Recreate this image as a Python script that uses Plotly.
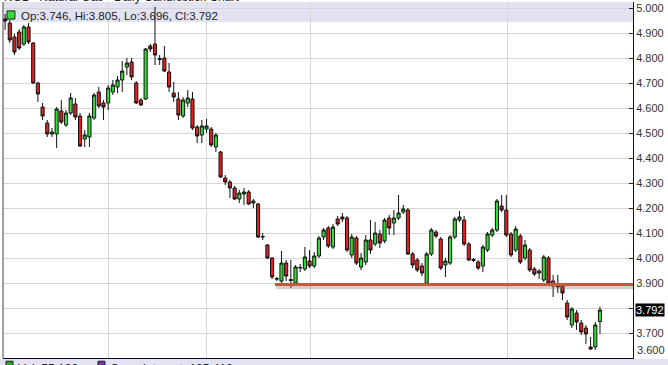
import plotly.graph_objects as go

# ---- data ----
opens = [4.956, 4.940, 4.884, 4.904, 4.856, 4.924, 4.860, 4.700, 4.604, 4.540,
         4.496, 4.496, 4.588, 4.532, 4.580, 4.616, 4.568, 4.476, 4.484, 4.560,
         4.664, 4.620, 4.620, 4.664, 4.684, 4.712, 4.764, 4.784, 4.700, 4.632,
         4.636, 4.848, 4.856, 4.798, 4.800, 4.744, 4.660, 4.636, 4.568, 4.620,
         4.636, 4.524, 4.492, 4.516, 4.516, 4.444, 4.424, 4.320, 4.304, 4.280,
         4.236, 4.256, 4.264, 4.220, 4.216, 4.084, 4.052, 4.000, 3.918, 3.908,
         3.980, 3.914, 3.900, 3.960, 3.956, 3.988, 3.968, 4.008, 4.084, 4.120,
         4.044, 4.156, 4.164, 4.160, 4.012, 4.080, 3.964, 3.984, 4.072, 4.056,
         4.096, 4.068, 4.160, 4.140, 4.160, 4.184, 4.192, 4.016, 3.992, 3.968,
         3.900, 4.016, 4.104, 4.076, 3.972, 3.980, 4.084, 4.152, 4.152, 4.056,
         3.994, 3.984, 3.968, 4.032, 4.092, 4.112, 4.208, 4.192, 4.096, 4.032,
         4.088, 4.000, 4.032, 3.956, 3.940, 3.912, 4.000, 3.908, 3.896, 3.888,
         3.820, 3.732, 3.780, 3.740, 3.720, 3.644, 3.644, 3.746]
closes = [4.948, 4.872, 4.824, 4.840, 4.924, 4.864, 4.700, 4.656, 4.568, 4.496,
          4.504, 4.596, 4.544, 4.580, 4.640, 4.564, 4.448, 4.492, 4.568, 4.652,
          4.608, 4.604, 4.680, 4.692, 4.712, 4.748, 4.780, 4.724, 4.620, 4.612,
          4.836, 4.836, 4.812, 4.794, 4.748, 4.684, 4.644, 4.572, 4.632, 4.640,
          4.520, 4.488, 4.528, 4.528, 4.452, 4.492, 4.324, 4.304, 4.280, 4.236,
          4.260, 4.264, 4.216, 4.228, 4.084, 4.086, 4.000, 3.924, 3.916, 3.980,
          3.928, 3.910, 3.964, 3.962, 4.004, 3.968, 4.008, 4.080, 4.112, 4.048,
          4.124, 4.136, 4.156, 4.032, 4.084, 3.980, 4.000, 4.072, 4.032, 4.100,
          4.060, 4.152, 4.120, 4.160, 4.180, 4.196, 4.016, 3.972, 3.952, 3.940,
          4.016, 4.112, 4.088, 3.960, 3.988, 4.084, 4.156, 4.164, 4.056, 3.992,
          3.990, 3.960, 4.044, 4.096, 4.112, 4.228, 4.192, 4.092, 4.012, 4.116,
          3.984, 4.052, 3.952, 3.936, 3.948, 4.004, 3.900, 3.888, 3.884, 3.860,
          3.764, 3.796, 3.744, 3.704, 3.696, 3.636, 3.732, 3.792]
highs = [4.976, 4.952, 4.896, 4.916, 4.932, 4.940, 4.864, 4.704, 4.620, 4.552,
         4.520, 4.604, 4.632, 4.592, 4.660, 4.640, 4.580, 4.512, 4.580, 4.660,
         4.684, 4.632, 4.692, 4.712, 4.728, 4.788, 4.800, 4.800, 4.708, 4.640,
         4.840, 4.856, 5.005, 4.812, 4.848, 4.780, 4.704, 4.664, 4.644, 4.672,
         4.664, 4.532, 4.552, 4.556, 4.524, 4.500, 4.428, 4.332, 4.312, 4.288,
         4.272, 4.280, 4.272, 4.236, 4.220, 4.100, 4.056, 4.004, 3.924, 4.028,
         3.992, 3.992, 3.972, 3.976, 4.044, 4.032, 4.024, 4.088, 4.120, 4.128,
         4.136, 4.168, 4.180, 4.168, 4.096, 4.088, 4.020, 4.092, 4.152, 4.144,
         4.112, 4.160, 4.172, 4.192, 4.252, 4.212, 4.200, 4.024, 4.000, 3.980,
         4.024, 4.120, 4.112, 4.084, 4.000, 4.092, 4.164, 4.188, 4.168, 4.064,
         4.000, 3.992, 4.052, 4.104, 4.120, 4.236, 4.252, 4.252, 4.104, 4.128,
         4.096, 4.072, 4.040, 3.964, 3.956, 4.012, 4.008, 3.932, 3.932, 3.896,
         3.832, 3.804, 3.792, 3.752, 3.732, 3.684, 3.744, 3.805]
lows = [4.912, 4.860, 4.812, 4.832, 4.848, 4.856, 4.696, 4.624, 4.552, 4.484,
        4.484, 4.440, 4.536, 4.524, 4.572, 4.552, 4.444, 4.444, 4.444, 4.552,
        4.600, 4.552, 4.592, 4.652, 4.660, 4.664, 4.732, 4.712, 4.616, 4.608,
        4.632, 4.824, 4.772, 4.772, 4.744, 4.664, 4.624, 4.552, 4.560, 4.604,
        4.512, 4.460, 4.460, 4.500, 4.444, 4.424, 4.320, 4.292, 4.240, 4.232,
        4.220, 4.212, 4.212, 4.200, 4.080, 4.072, 3.996, 3.916, 3.908, 3.900,
        3.908, 3.880, 3.888, 3.944, 3.948, 3.960, 3.960, 4.000, 4.072, 4.040,
        4.036, 4.128, 4.144, 4.024, 4.000, 3.972, 3.952, 3.972, 4.016, 4.048,
        4.040, 4.060, 4.092, 4.092, 4.152, 4.176, 4.012, 3.960, 3.944, 3.928,
        3.896, 4.008, 4.080, 3.952, 3.924, 3.972, 4.076, 4.144, 4.048, 3.988,
        3.984, 3.952, 3.944, 4.024, 4.084, 4.104, 4.184, 4.084, 4.004, 4.024,
        3.976, 3.992, 3.944, 3.928, 3.916, 3.904, 3.892, 3.844, 3.860, 3.832,
        3.752, 3.720, 3.712, 3.692, 3.656, 3.632, 3.632, 3.696]
days = list(range(len(opens)))

support_level = 3.894
support_start = 57.6
last_close = 3.792
grid_vals = [3.7, 3.8, 3.9, 4.0, 4.1, 4.2, 4.3, 4.4, 4.5, 4.6, 4.7, 4.8, 4.9, 5.0]
label_vals = [3.7, 3.9, 4.0, 4.1, 4.2, 4.3, 4.4, 4.5, 4.6, 4.7, 4.8, 4.9, 5.0]
month_lines = [22, 43.1, 65.1, 107.2]

title_txt = "NG1 - Natural Gas - Daily Candlestick Chart"
ohlc_txt = "Op:3.746, Hi:3.805, Lo:3.696, Cl:3.792"
vol_txt = "Vol: 55,102"
oi_txt = "Open Interest: 125,416"

FONT = "Liberation Sans, Arial, sans-serif"

fig = go.Figure()
fig.add_trace(go.Candlestick(
    x=days, open=opens, high=highs, low=lows, close=closes,
    increasing=dict(fillcolor="#33dd33", line=dict(color="#111111", width=1)),
    decreasing=dict(fillcolor="#dd2222", line=dict(color="#111111", width=1)),
    whiskerwidth=0, showlegend=False, hoverinfo="skip"))

shapes = [
    dict(type="rect", xref="paper", yref="paper", x0=0, x1=1, y0=0.944, y1=1.0,
         fillcolor="#e2e2f3", line=dict(width=0), layer="below"),
    dict(type="rect", xref="paper", yref="paper", x0=0.0063, x1=0.019, y0=0.952, y1=0.975,
         fillcolor="#33dd33", line=dict(color="#222", width=1)),
    dict(type="line", xref="paper", yref="paper", x0=0, x1=0, y0=0, y1=1,
         line=dict(color="#444", width=1)),
    dict(type="line", xref="x", yref="y", x0=support_start + 0.3, x1=134.05,
         y0=support_level - 0.011, y1=support_level - 0.011,
         line=dict(color="rgba(120,120,120,0.35)", width=4)),
    dict(type="line", xref="x", yref="y", x0=support_start, x1=134.05,
         y0=support_level, y1=support_level,
         line=dict(color="#c4593b", width=3)),
    dict(type="rect", xref="paper", yref="paper", x0=-0.01, x1=1.06, y0=-0.003, y1=-0.03,
         fillcolor="#e2e2f3", line=dict(width=0)),
    dict(type="rect", xref="paper", yref="paper", x0=0.0048, x1=0.0159, y0=-0.009, y1=-0.03,
         fillcolor="#22aa22", line=dict(color="#222", width=1)),
    dict(type="rect", xref="paper", yref="paper", x0=0.1508, x1=0.1619, y0=-0.009, y1=-0.03,
         fillcolor="#7733aa", line=dict(color="#222", width=1)),
]

annotations = [
    dict(text=title_txt, xref="paper", yref="paper", x=-0.002, y=1.013, xanchor="left",
         yanchor="middle", showarrow=False, font=dict(family=FONT, size=12, color="#222")),
    dict(text=ohlc_txt, xref="paper", yref="paper", x=0.0254, y=0.962, xanchor="left",
         yanchor="middle", showarrow=False, font=dict(family=FONT, size=11.5, color="#222")),
    dict(text=f"{last_close:.3f}", xref="paper", yref="y", x=1, y=last_close, xanchor="left",
         yanchor="middle", xshift=2, showarrow=False, bgcolor="black", borderpad=0,
         font=dict(family=FONT, size=11, color="white")),
    dict(text="3.600", xref="paper", yref="paper", x=1, y=0.0225, xanchor="left",
         yanchor="middle", xshift=2, showarrow=False,
         font=dict(family=FONT, size=11, color="#333")),
    dict(text=vol_txt, xref="paper", yref="paper", x=0.02, y=-0.006, xanchor="left",
         yanchor="top", showarrow=False, font=dict(family=FONT, size=12, color="#222")),
    dict(text=oi_txt, xref="paper", yref="paper", x=0.166, y=-0.006, xanchor="left",
         yanchor="top", showarrow=False, font=dict(family=FONT, size=12, color="#222")),
]

fig.update_layout(
    width=668, height=365,
    margin=dict(l=3, r=35, t=2, b=7),
    paper_bgcolor="white", plot_bgcolor="white",
    boxgap=0.05,
    shapes=shapes, annotations=annotations,
    xaxis=dict(range=[-0.45, 134.05], rangeslider=dict(visible=False),
               tickvals=month_lines, showticklabels=False, ticks="",
               showgrid=True, gridcolor="#d6d6d6", gridwidth=1, zeroline=False,
               showline=True, linecolor="#0a0a30", linewidth=2),
    yaxis=dict(range=[3.600, 5.024], side="right", showgrid=False, zeroline=False,
               tickvals=label_vals, tickformat=".3f",
               ticks="inside", ticklen=4, tickcolor="#222",
               showline=True, linecolor="#111", linewidth=1,
               tickfont=dict(family=FONT, size=11, color="#333")),
    yaxis2=dict(range=[3.600, 5.024], overlaying="y", side="right", matches=None,
                tickvals=grid_vals, showticklabels=False, ticks="inside", ticklen=4,
                tickcolor="#222", showgrid=True, gridcolor="#d6d6d6", gridwidth=1,
                zeroline=False, layer="below traces"),
    font=dict(family=FONT),
)
# a second, empty y axis carries the horizontal grid lines (incl. the hidden 3.800 one)
fig.add_trace(go.Scatter(x=[None], y=[None], yaxis="y2", showlegend=False, hoverinfo="skip"))

fig.write_html("out.html")
